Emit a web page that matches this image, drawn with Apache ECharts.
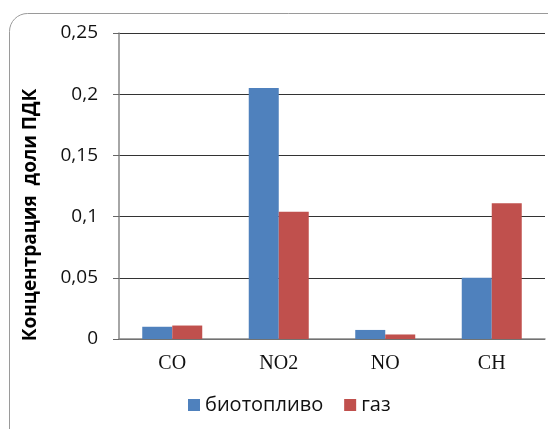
<!DOCTYPE html>
<html>
<head>
<meta charset="utf-8">
<script src="https://cdn.jsdelivr.net/npm/echarts@6/dist/echarts.min.js"></script>
<style>
  html, body { margin: 0; padding: 0; background: #fff; }
  #chart { width: 548px; height: 429px; }
</style>
</head>
<body>
<div id="chart"></div>
<script>
var categories = ['CO', 'NO2', 'NO', 'CH'];
var bioValues = [0.010, 0.205, 0.0074, 0.050];
var gasValues = [0.011, 0.104, 0.0037, 0.111];
var seriesNames = ['биотопливо', 'газ'];
var yTicks = [0, 0.05, 0.1, 0.15, 0.2, 0.25];

var chart = echarts.init(document.getElementById('chart'));

chart.setOption({
  animation: false,
  grid: { left: 119, top: 33, right: 3, bottom: 90 },
  graphic: [
    {
      type: 'rect',
      shape: { x: 9.5, y: 13.5, width: 600, height: 460, r: 18 },
      style: { fill: 'none', stroke: '#9a9a9a', lineWidth: 1 },
      z: -1
    },
    {
      type: 'text',
      x: 31,
      y: 215,
      rotation: Math.PI / 2,
      style: {
        text: 'Концентрация  доли ПДК',
        font: 'bold 19px "Open Sans"',
        fill: '#000',
        align: 'center',
        verticalAlign: 'middle'
      }
    }
  ],
  legend: {
    bottom: 9,
    left: 183,
    itemWidth: 12,
    itemHeight: 12,
    itemGap: 21,
    icon: 'rect',
    textStyle: { fontFamily: 'Open Sans', fontSize: 20, color: '#111' },
    data: seriesNames
  },
  xAxis: {
    type: 'category',
    data: categories,
    axisLine: { lineStyle: { color: '#888', width: 1.5 } },
    axisTick: { show: false },
    axisLabel: {
      fontFamily: 'Liberation Serif',
      fontSize: 20,
      color: '#111',
      margin: 15
    }
  },
  yAxis: {
    type: 'value',
    min: 0,
    max: 0.25,
    interval: 0.05,
    axisLine: { show: true, lineStyle: { color: '#888', width: 1.5 } },
    axisTick: { show: true, length: 6, lineStyle: { color: '#666' } },
    splitLine: { lineStyle: { color: '#333', width: 1 } },
    axisLabel: {
      fontFamily: 'Open Sans',
      fontSize: 19,
      color: '#111',
      margin: 21,
      formatter: function (v) {
        var s = yTicks.indexOf(+v.toFixed(2)) >= 0 ? String(+v.toFixed(2)) : String(v);
        return s.replace('.', ',');
      }
    }
  },
  series: [
    {
      name: seriesNames[0],
      type: 'bar',
      data: bioValues,
      barWidth: 30,
      barGap: '0%',
      itemStyle: { color: '#4f81bd' }
    },
    {
      name: seriesNames[1],
      type: 'bar',
      data: gasValues,
      barWidth: 30,
      itemStyle: { color: '#c0504d' }
    }
  ]
});
</script>
</body>
</html>
